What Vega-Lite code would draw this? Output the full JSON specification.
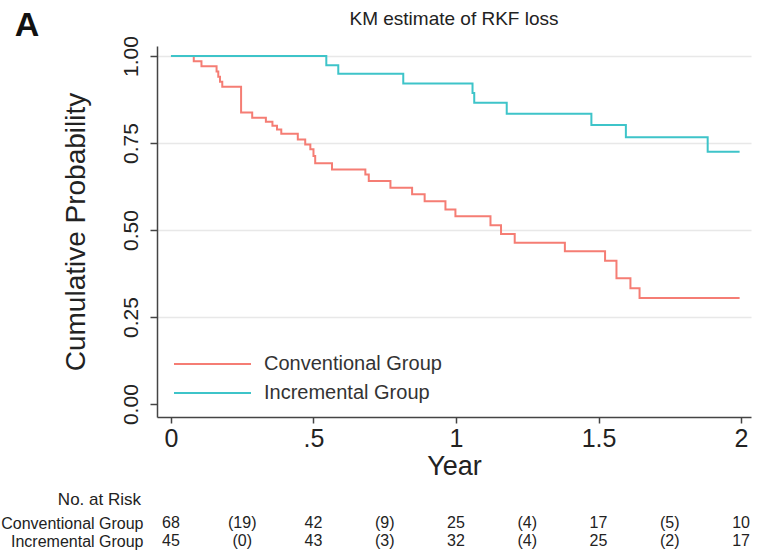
{
  "$schema": "https://vega.github.io/schema/vega-lite/v6.json",
  "padding": {"left": 0, "top": 8, "right": 5, "bottom": 0},
  "background": "white",
  "title": {"text": "A", "anchor": "start", "frame": "bounds", "fontSize": 34, "fontWeight": "bold", "color": "#111", "dx": 14, "offset": -33},
  "datasets": {
    "km": [
      {"group": "Conventional Group", "t": 0, "s": 1.0},
      {"group": "Conventional Group", "t": 0.080, "s": 0.985},
      {"group": "Conventional Group", "t": 0.107, "s": 0.971},
      {"group": "Conventional Group", "t": 0.160, "s": 0.956},
      {"group": "Conventional Group", "t": 0.166, "s": 0.941},
      {"group": "Conventional Group", "t": 0.172, "s": 0.926},
      {"group": "Conventional Group", "t": 0.180, "s": 0.912},
      {"group": "Conventional Group", "t": 0.246, "s": 0.838},
      {"group": "Conventional Group", "t": 0.285, "s": 0.823},
      {"group": "Conventional Group", "t": 0.333, "s": 0.811},
      {"group": "Conventional Group", "t": 0.356, "s": 0.800},
      {"group": "Conventional Group", "t": 0.372, "s": 0.789},
      {"group": "Conventional Group", "t": 0.387, "s": 0.777},
      {"group": "Conventional Group", "t": 0.445, "s": 0.760},
      {"group": "Conventional Group", "t": 0.471, "s": 0.746},
      {"group": "Conventional Group", "t": 0.489, "s": 0.732},
      {"group": "Conventional Group", "t": 0.500, "s": 0.713},
      {"group": "Conventional Group", "t": 0.506, "s": 0.692},
      {"group": "Conventional Group", "t": 0.565, "s": 0.674},
      {"group": "Conventional Group", "t": 0.682, "s": 0.660},
      {"group": "Conventional Group", "t": 0.694, "s": 0.641},
      {"group": "Conventional Group", "t": 0.770, "s": 0.622},
      {"group": "Conventional Group", "t": 0.846, "s": 0.603},
      {"group": "Conventional Group", "t": 0.890, "s": 0.583},
      {"group": "Conventional Group", "t": 0.963, "s": 0.559},
      {"group": "Conventional Group", "t": 0.998, "s": 0.540},
      {"group": "Conventional Group", "t": 1.121, "s": 0.514},
      {"group": "Conventional Group", "t": 1.158, "s": 0.489},
      {"group": "Conventional Group", "t": 1.206, "s": 0.464},
      {"group": "Conventional Group", "t": 1.382, "s": 0.439},
      {"group": "Conventional Group", "t": 1.523, "s": 0.412},
      {"group": "Conventional Group", "t": 1.563, "s": 0.362},
      {"group": "Conventional Group", "t": 1.612, "s": 0.333},
      {"group": "Conventional Group", "t": 1.644, "s": 0.305},
      {"group": "Conventional Group", "t": 1.995, "s": 0.305},
      {"group": "Incremental Group", "t": 0, "s": 1.0},
      {"group": "Incremental Group", "t": 0.545, "s": 0.974},
      {"group": "Incremental Group", "t": 0.587, "s": 0.949},
      {"group": "Incremental Group", "t": 0.815, "s": 0.921},
      {"group": "Incremental Group", "t": 1.058, "s": 0.894},
      {"group": "Incremental Group", "t": 1.064, "s": 0.866},
      {"group": "Incremental Group", "t": 1.178, "s": 0.834},
      {"group": "Incremental Group", "t": 1.475, "s": 0.802},
      {"group": "Incremental Group", "t": 1.596, "s": 0.767},
      {"group": "Incremental Group", "t": 1.883, "s": 0.725},
      {"group": "Incremental Group", "t": 1.995, "s": 0.725}
    ],
    "risk": [
      {"group": "Conventional Group", "t": 0, "label": "68"},
      {"group": "Conventional Group", "t": 0.25, "label": "(19)"},
      {"group": "Conventional Group", "t": 0.5, "label": "42"},
      {"group": "Conventional Group", "t": 0.75, "label": "(9)"},
      {"group": "Conventional Group", "t": 1.0, "label": "25"},
      {"group": "Conventional Group", "t": 1.25, "label": "(4)"},
      {"group": "Conventional Group", "t": 1.5, "label": "17"},
      {"group": "Conventional Group", "t": 1.75, "label": "(5)"},
      {"group": "Conventional Group", "t": 2.0, "label": "10"},
      {"group": "Incremental Group", "t": 0, "label": "45"},
      {"group": "Incremental Group", "t": 0.25, "label": "(0)"},
      {"group": "Incremental Group", "t": 0.5, "label": "43"},
      {"group": "Incremental Group", "t": 0.75, "label": "(3)"},
      {"group": "Incremental Group", "t": 1.0, "label": "32"},
      {"group": "Incremental Group", "t": 1.25, "label": "(4)"},
      {"group": "Incremental Group", "t": 1.5, "label": "25"},
      {"group": "Incremental Group", "t": 1.75, "label": "(2)"},
      {"group": "Incremental Group", "t": 2.0, "label": "17"}
    ]
  },
  "spacing": 12,
  "resolve": {"scale": {"x": "independent", "y": "independent", "color": "independent"}},
  "vconcat": [
    {
      "width": 594,
      "height": 371,
      "title": {"text": "KM estimate of RKF loss", "fontSize": 19, "fontWeight": "normal", "color": "#222", "offset": 7, "anchor": "middle", "frame": "group"},
      "data": {"name": "km"},
      "mark": {"type": "line", "interpolate": "step-after", "strokeWidth": 2},
      "encoding": {
        "x": {
          "field": "t", "type": "quantitative",
          "scale": {"domain": [-0.049, 2.035], "nice": false, "zero": false},
          "axis": {
            "values": [0, 0.5, 1, 1.5, 2],
            "format": "~g",
            "labelExpr": "datum.value == 0.5 ? '.5' : datum.label",
            "title": "Year", "titleFontSize": 27, "titleFontWeight": "normal", "titleColor": "#222", "titlePadding": 2,
            "labelFontSize": 25, "labelColor": "#222", "labelPadding": 3,
            "tickSize": 6, "tickColor": "#444", "tickWidth": 1.5,
            "domainColor": "#444", "domainWidth": 1.5, "grid": false
          }
        },
        "y": {
          "field": "s", "type": "quantitative",
          "scale": {"domain": [-0.037, 1.029], "nice": false, "zero": false},
          "axis": {
            "values": [0, 0.25, 0.5, 0.75, 1],
            "format": ".2f",
            "labelAngle": 270,
            "labelFontSize": 21, "labelColor": "#222", "labelPadding": 9,
            "tickSize": 7, "tickColor": "#444", "tickWidth": 1.5,
            "domainColor": "#444", "domainWidth": 1.5,
            "title": "Cumulative Probability", "titleFontSize": 28, "titleFontWeight": "normal", "titleColor": "#222", "titlePadding": 30,
            "grid": true,
            "gridColor": {"condition": {"test": "datum.value === 0", "value": "transparent"}, "value": "#e8e8e8"},
            "gridWidth": 1.5
          }
        },
        "color": {
          "field": "group", "type": "nominal",
          "scale": {"domain": ["Conventional Group", "Incremental Group"], "range": ["#F57D74", "#3EC4C9"]},
          "legend": {
            "orient": "none", "legendX": 16, "legendY": 307, "direction": "vertical",
            "title": null, "symbolType": "M-1,0H6.7", "symbolSize": 400, "symbolStrokeWidth": 2,
            "labelFontSize": 20, "labelColor": "#333", "labelOffset": 69, "labelLimit": 400, "rowPadding": 8, "padding": 0
          }
        },
        "order": {"field": "t", "type": "quantitative"}
      }
    },
    {
      "width": 594,
      "height": 36,
      "title": {"text": "No. at Risk", "anchor": "start", "align": "right", "frame": "group", "dx": -16, "fontSize": 17, "fontWeight": "normal", "color": "#222", "offset": 5},
      "data": {"name": "risk"},
      "mark": {"type": "text", "fontSize": 16, "color": "#222"},
      "encoding": {
        "x": {
          "field": "t", "type": "quantitative",
          "scale": {"domain": [-0.049, 2.035], "nice": false, "zero": false},
          "axis": null
        },
        "y": {
          "field": "group", "type": "nominal",
          "sort": ["Conventional Group", "Incremental Group"],
          "axis": {"title": null, "domain": false, "ticks": false, "labelFontSize": 16, "labelColor": "#222", "labelPadding": 14}
        },
        "text": {"field": "label", "type": "nominal"}
      }
    }
  ],
  "config": {
    "view": {"stroke": null},
    "font": "Liberation Sans"
  }
}
